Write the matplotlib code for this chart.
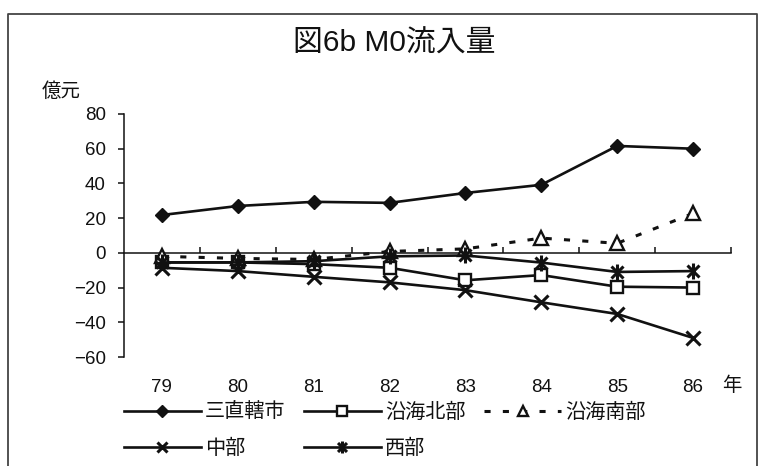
import matplotlib
matplotlib.use("Agg")
import matplotlib.pyplot as plt
from matplotlib.path import Path
from matplotlib.lines import Line2D

# M0 inflow by region, 100 million yuan
years = ["79", "80", "81", "82", "83", "84", "85", "86"]
series_names = ["三直轄市", "沿海北部", "沿海南部", "中部", "西部"]
municipalities = [21.8, 27.0, 29.4, 28.8, 34.5, 39.2, 61.6, 60.0]
coast_north = [-5.5, -5.5, -6.5, -8.6, -15.8, -12.8, -19.5, -20.0]
coast_south = [-2.0, -3.2, -3.8, 0.8, 2.3, 8.5, 5.5, 22.7]
central = [-8.6, -10.5, -13.8, -17.0, -21.5, -28.5, -35.2, -49.0]
western = [-5.5, -5.5, -4.8, -2.0, -1.5, -5.6, -11.0, -10.5]
y_ticks = [80, 60, 40, 20, 0, -20, -40, -60]

FONT = ["Liberation Sans", "Noto Sans CJK JP", "DejaVu Sans"]
plt.rcParams["font.family"] = FONT
INK = "#111111"

# star marker: vertical stroke plus an X
star = Path(
    [(0, -1), (0, 1), (-0.75, -0.75), (0.75, 0.75), (-0.75, 0.75), (0.75, -0.75)],
    [Path.MOVETO, Path.LINETO, Path.MOVETO, Path.LINETO, Path.MOVETO, Path.LINETO],
)

fig = plt.figure(figsize=(7.7, 4.66), dpi=100)
ax = fig.add_axes([124 / 770, 1 - 357 / 466, (731 - 124) / 770, (357 - 114) / 466])

x = list(range(len(years)))
lw = 1.9
h_mun, = ax.plot(x, municipalities, color=INK, lw=lw, marker="D", ms=7.5,
                 mfc=INK, mec=INK, label=series_names[0], zorder=5)
h_north, = ax.plot(x, coast_north, color=INK, lw=lw, marker="s", ms=9,
                   mfc="white", mec=INK, mew=1.7, label=series_names[1], zorder=4)
h_south, = ax.plot(x, coast_south, color=INK, lw=2.2, dashes=(2.0, 4.0),
                   marker="^", ms=10, mfc="white", mec=INK, mew=1.7,
                   label=series_names[2], zorder=4)
h_cent, = ax.plot(x, central, color=INK, lw=lw, marker="x", ms=10.5, mew=2.2,
                  label=series_names[3], zorder=4)
h_west, = ax.plot(x, western, color=INK, lw=lw, marker=star, ms=11.5, mew=2.2,
                  mec=INK, label=series_names[4], zorder=4)

ax.set_xlim(-0.5, len(years) - 0.5)
ax.set_ylim(-60, 80)
ax.set_yticks(y_ticks)
ax.tick_params(axis="y", direction="out", length=4, width=1.1, pad=9,
               labelsize=13.5, colors=INK)

# zero line with category dividers
for side in ("top", "right"):
    ax.spines[side].set_visible(False)
ax.spines["left"].set_color(INK)
ax.spines["left"].set_linewidth(1.1)
ax.spines["bottom"].set_position(("data", 0))
ax.spines["bottom"].set_color(INK)
ax.spines["bottom"].set_linewidth(1.1)
ax.set_xticks([i + 0.5 for i in x])
ax.set_xticklabels([])
ax.tick_params(axis="x", direction="in", length=4, width=1.1, colors=INK)

sec = ax.secondary_xaxis("bottom")
sec.set_xticks(x, labels=years)
sec.spines["bottom"].set_visible(False)
sec.tick_params(length=0, pad=16, labelsize=13.5, colors=INK)

fig.text(394 / 770, 1 - 44 / 466, "図6b M0流入量", ha="center", va="center",
         fontsize=21.5, color=INK)
fig.text(61 / 770, 1 - 92 / 466, "億元", ha="center", va="center",
         fontsize=14, color=INK)
fig.text(732 / 770, 1 - 386 / 466, "年", ha="center", va="center",
         fontsize=14, color=INK)

handles = [h_mun, h_cent, h_north, h_west, h_south]
fig.legend(handles=handles, labels=[h.get_label() for h in handles],
           ncol=3, loc="upper left", bbox_to_anchor=(124 / 770, 1 - 403 / 466),
           frameon=False, borderpad=0, borderaxespad=0, fontsize=14.5,
           handlelength=3.8, handletextpad=0.2, columnspacing=0.95,
           labelspacing=0.85, markerscale=0.75, labelcolor=INK)

# outer frame
fig.add_artist(Line2D([8 / 770, 8 / 770, 757 / 770, 757 / 770],
                      [0, 1 - 14 / 466, 1 - 14 / 466, 0],
                      transform=fig.transFigure, color="#444444", lw=1.3))

fig.savefig("out.png", dpi=100)
